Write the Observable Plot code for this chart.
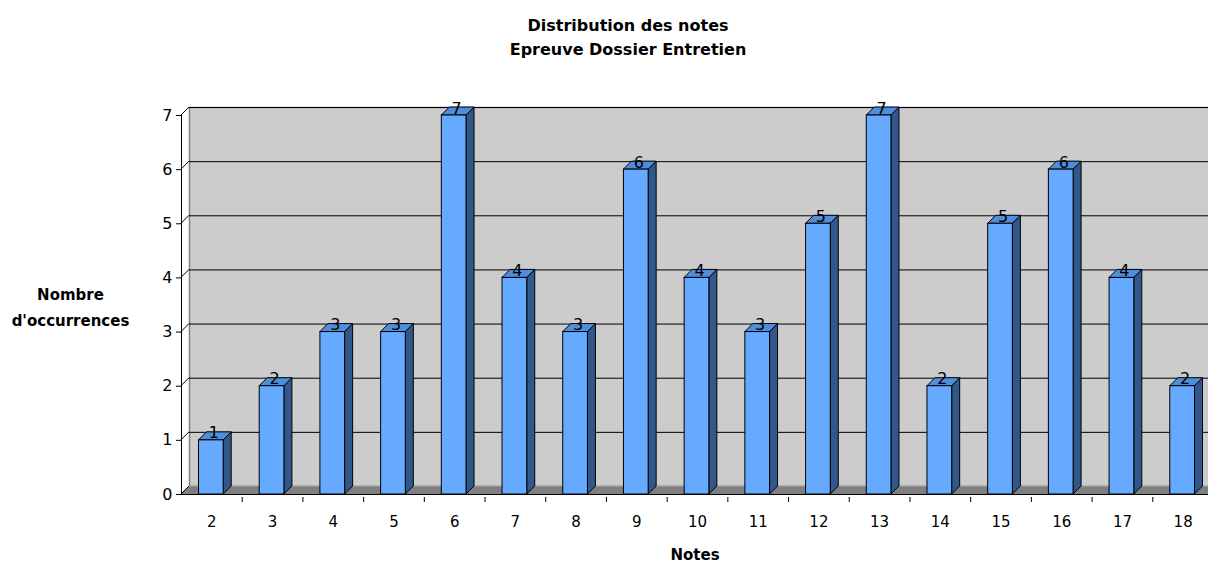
<!DOCTYPE html>
<html><head><meta charset="utf-8">
<script src="https://cdn.jsdelivr.net/npm/d3@7"></script>
<script src="https://cdn.jsdelivr.net/npm/@observablehq/plot@0.6"></script>
<style>
html,body{margin:0;padding:0;background:#fff;overflow:hidden;}
#wrap{position:relative;width:1208px;height:562px;font-family:"DejaVu Sans",sans-serif;}
#title{position:absolute;left:0;top:14px;width:1256px;text-align:center;font-weight:bold;font-size:16px;line-height:24px;color:#000;}
#chart{position:absolute;left:0;top:70px;}
</style>
</head><body>
<div id="wrap">
  <div id="title">Distribution des notes<br>Epreuve Dossier Entretien</div>
  <div id="chart"></div>
</div>
<script>
const notes = [2,3,4,5,6,7,8,9,10,11,12,13,14,15,16,17,18];
const counts = [1,2,3,3,7,4,3,6,4,3,5,7,2,5,6,4,2];
const yTicks = [0,1,2,3,4,5,6,7];
const xBoundaries = [2.5,3.5,4.5,5.5,6.5,7.5,8.5,9.5,10.5,11.5,12.5,13.5,14.5,15.5,16.5,17.5];
const titleY = "Nombre\nd'occurrences";
const titleX = "Notes";

const data = notes.map((note, i) => ({note, count: counts[i]}));

const D = 8;             // 3D depth in px
const INL = 17.5, INR = 18.5;
const FRONT = "#66AAFF", SIDE = "#32578A", TOP = "#4F8DDD";

function bars3d(index, scales, values) {
  const g = d3.create("svg:g");
  for (const i of index) {
    const xl = values.x1[i] + INL, xr = values.x2[i] - INR;
    const yt = Math.min(values.y1[i], values.y2[i]);
    const yb = Math.max(values.y1[i], values.y2[i]);
    g.append("path")
      .attr("d", `M${xr},${yb}L${xr + D},${yb - D}L${xr + D},${yt - D}L${xr},${yt}Z`)
      .attr("fill", SIDE).attr("stroke", "#000").attr("stroke-width", 1).attr("stroke-linejoin", "round");
    g.append("path")
      .attr("d", `M${xl},${yt}L${xl + D},${yt - D}L${xr + D},${yt - D}L${xr},${yt}Z`)
      .attr("fill", TOP).attr("stroke", "#000").attr("stroke-width", 1).attr("stroke-linejoin", "round");
    g.append("rect")
      .attr("x", xl).attr("y", yt).attr("width", xr - xl).attr("height", yb - yt)
      .attr("fill", FRONT).attr("stroke", "#000").attr("stroke-width", 1);
  }
  return g.node();
}

function floor(index, scales, values, dims) {
  const x0 = dims.marginLeft, x1 = dims.width, y0 = scales.y(0);
  const g = d3.create("svg:g");
  g.append("path")
    .attr("d", `M${x0},${y0}L${x0 + D},${y0 - D}L${x1 + D},${y0 - D}L${x1},${y0}Z`)
    .attr("fill", "#7f7f7f");
  g.append("line").attr("x1", x0 + D).attr("x2", x1 + D).attr("y1", y0 - D).attr("y2", y0 - D)
    .attr("stroke", "#a6a6a6").attr("stroke-width", 1);
  return g.node();
}

function connectors(index, scales, values, dims) {
  const g = d3.create("svg:g");
  const x0 = dims.marginLeft;
  for (const i of index) {
    const y = values.y[i];
    g.append("line").attr("x1", x0).attr("y1", y).attr("x2", x0 + D).attr("y2", y - D)
      .attr("stroke", "#000").attr("stroke-width", 1);
  }
  return g.node();
}

const chart = Plot.plot({
  width: 1208,
  height: 492,
  marginLeft: 181,
  marginRight: 0,
  marginTop: 45,
  marginBottom: 68,
  style: {fontFamily: "DejaVu Sans, sans-serif", color: "#000", background: "#fff"},
  x: {domain: [1.5, 18.5], range: [181, 1213]},
  y: {domain: [0, 7]},
  marks: [
    Plot.frame({fill: "#cccccc", stroke: "#808080", strokeWidth: 1.5, dx: D, dy: -D}),
    Plot.ruleY(yTicks.slice(1), {dx: D, dy: -D, stroke: "#000", strokeWidth: 1}),
    Plot.ruleY([0], {render: floor}),
    Plot.ruleY(yTicks, {y: d => d, render: connectors}),
    Plot.ruleX([1.5], {y1: 0, y2: 7, stroke: "#000", strokeWidth: 1}),
    Plot.ruleY([0], {stroke: "#000", strokeWidth: 1}),
    Plot.rectY(data, {x1: d => d.note - 0.5, x2: d => d.note + 0.5, y: "count", render: bars3d}),
    Plot.text(data, {x: "note", y: "count", text: d => String(d.count), dx: 2, dy: -7, fontSize: 16, fill: "#000"}),
    Plot.axisY(yTicks, {tickSize: 5, tickPadding: 4, fontSize: 16, label: null, stroke: "#000", tickFormat: d3.format("d")}),
    Plot.axisX(notes, {tickSize: 0, tickPadding: 22, fontSize: 15, label: null}),
    Plot.axisX(xBoundaries, {tickSize: 5, dy: 3, tickFormat: () => "", label: null, stroke: "#000"}),
    Plot.text([titleX], {frameAnchor: "bottom", dy: 65, fontWeight: "bold", fontSize: 15, fill: "#000"}),
    Plot.text([titleY], {frameAnchor: "left", dx: -111, textAnchor: "middle", lineHeight: 1.7, fontWeight: "bold", fontSize: 15, fill: "#000"})
  ]
});
document.getElementById("chart").appendChild(chart);
</script>
</body></html>
